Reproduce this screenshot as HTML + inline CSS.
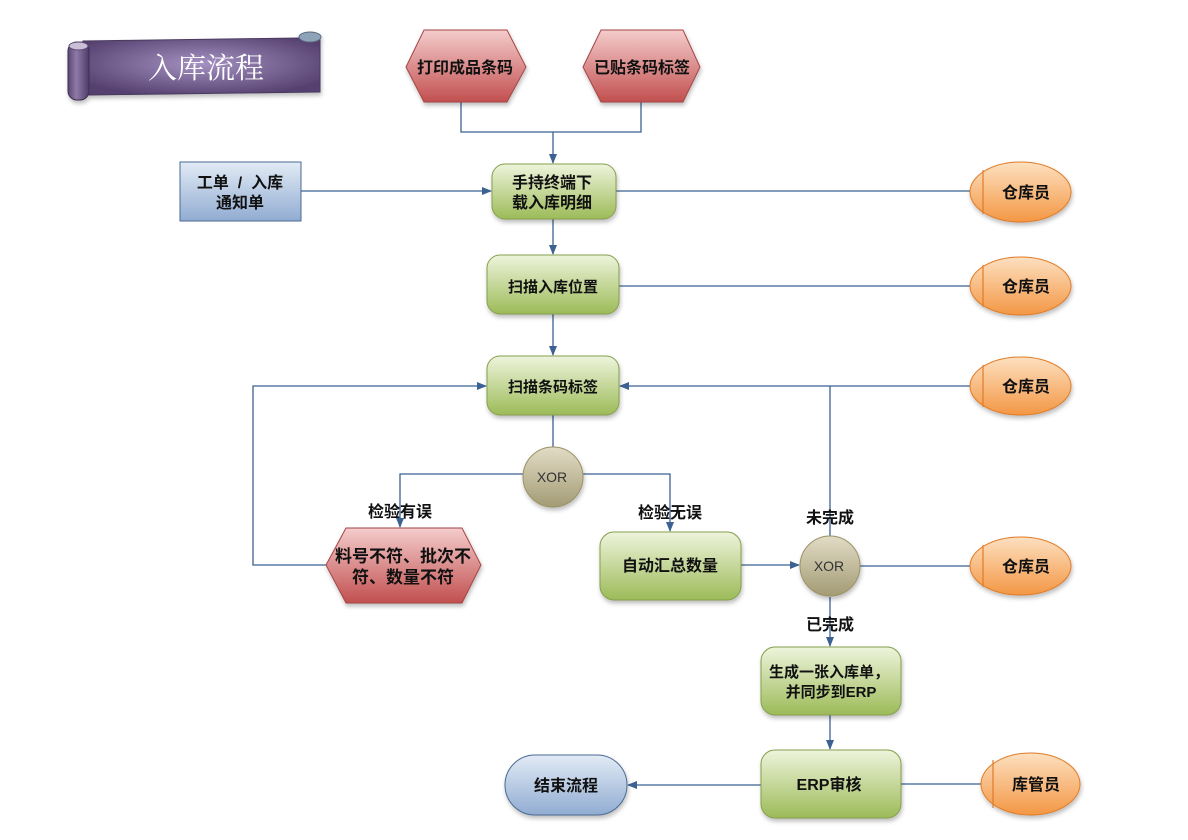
<!DOCTYPE html>
<html><head><meta charset="utf-8"><style>
html,body{margin:0;padding:0;background:#fff;}
svg{display:block;}
text{font-family:"Liberation Sans","Noto Sans CJK SC",sans-serif;font-weight:bold;fill:#111;}
</style></head><body>
<svg width="1188" height="840" viewBox="0 0 1188 840" xmlns="http://www.w3.org/2000/svg">
<defs>
<linearGradient id="gG" x1="0" y1="0" x2="0" y2="1"><stop offset="0" stop-color="#eef4dc"/><stop offset="1" stop-color="#9cbb58"/></linearGradient>
<linearGradient id="gR" x1="0" y1="0" x2="0" y2="1"><stop offset="0" stop-color="#f4cccc"/><stop offset="1" stop-color="#c24f4f"/></linearGradient>
<linearGradient id="gB" x1="0" y1="0" x2="0" y2="1"><stop offset="0" stop-color="#e2ebf5"/><stop offset="1" stop-color="#91acd2"/></linearGradient>
<linearGradient id="gO" x1="0" y1="0" x2="0" y2="1"><stop offset="0" stop-color="#fde0c0"/><stop offset="1" stop-color="#f39744"/></linearGradient>
<linearGradient id="gX" x1="0" y1="0" x2="0" y2="1"><stop offset="0" stop-color="#e2dcc6"/><stop offset="1" stop-color="#a39b74"/></linearGradient>
<radialGradient id="gP" cx="0.5" cy="0.45" r="0.6"><stop offset="0" stop-color="#a592c2"/><stop offset="1" stop-color="#55406f"/></radialGradient>
<linearGradient id="gPr" x1="0" y1="0" x2="1" y2="0"><stop offset="0" stop-color="#5a4672"/><stop offset="0.4" stop-color="#8f7aa8"/><stop offset="1" stop-color="#4e3b66"/></linearGradient>
<filter id="sh" x="-20%" y="-20%" width="140%" height="150%"><feDropShadow dx="1" dy="3" stdDeviation="2" flood-color="#000" flood-opacity="0.25"/></filter>
<marker id="ar" markerWidth="10" markerHeight="8" refX="9" refY="4" orient="auto" markerUnits="userSpaceOnUse"><path d="M0,0 L10,4 L0,8 z" fill="#3b6293"/></marker>
</defs>

<!-- title scroll -->
<g filter="url(#sh)">
<path d="M83,41 L300,38 L320,40 L320,92 L89,95 Z" fill="url(#gP)" stroke="#4a3a5e" stroke-width="1"/>
<ellipse cx="310" cy="37" rx="11" ry="5" fill="#8fa3b8" stroke="#5a6a80"/>
<rect x="68" y="42" width="21" height="58" rx="9" fill="url(#gPr)" stroke="#3e2f52"/>
<ellipse cx="78.5" cy="46" rx="9.5" ry="4" fill="#c9c0d8" stroke="#5a4672"/>
</g>
<text x="206" y="78" text-anchor="middle" style="font-family:'Liberation Serif','Noto Serif CJK SC',serif;font-weight:normal;fill:#fff;font-size:29px">入库流程</text>

<!-- connectors -->
<g stroke="#3b6293" stroke-width="1.3" fill="none">
<polyline points="461,102 461,132 641,132 641,102"/>
<line x1="553" y1="132" x2="553" y2="163" marker-end="url(#ar)"/>
<line x1="301" y1="191" x2="491" y2="191" marker-end="url(#ar)"/>
<line x1="616" y1="191" x2="970" y2="191"/>
<line x1="553" y1="219" x2="553" y2="254" marker-end="url(#ar)"/>
<line x1="619" y1="286" x2="970" y2="286"/>
<line x1="553" y1="314" x2="553" y2="355" marker-end="url(#ar)"/>
<line x1="970" y1="386" x2="620" y2="386" marker-end="url(#ar)"/>
<line x1="830" y1="386" x2="830" y2="536"/>
<polyline points="327,565 253,565 253,386 486,386" marker-end="url(#ar)"/>
<line x1="553" y1="415" x2="553" y2="447"/>
<polyline points="523,474 400,474 400,527" marker-end="url(#ar)"/>
<polyline points="583,474 670,474 670,531" marker-end="url(#ar)"/>
<line x1="741" y1="565" x2="799" y2="565" marker-end="url(#ar)"/>
<line x1="860" y1="566" x2="970" y2="566"/>
<line x1="830" y1="597" x2="830" y2="646" marker-end="url(#ar)"/>
<line x1="830" y1="715" x2="830" y2="749" marker-end="url(#ar)"/>
<line x1="901" y1="784" x2="981" y2="784"/>
<line x1="761" y1="785" x2="628" y2="785" marker-end="url(#ar)"/>
</g>

<!-- hexagons -->
<g filter="url(#sh)" stroke="#a54545" stroke-width="1" fill="url(#gR)">
<polygon points="406,67 424,30 507,30 526,67 507,102 424,102"/>
<polygon points="583,67 601,30 683,30 700,67 683,102 601,102"/>
<polygon points="326,565 346,528 462,528 481,565 462,603 346,603"/>
</g>
<text x="465" y="73" text-anchor="middle" font-size="16">打印成品条码</text>
<text x="642" y="73" text-anchor="middle" font-size="16">已贴条码标签</text>
<text x="403" y="562" text-anchor="middle" font-size="17">料号不符、批次不</text>
<text x="403" y="583" text-anchor="middle" font-size="17">符、数量不符</text>

<!-- blue input box -->
<rect x="180" y="162" width="121" height="59" fill="url(#gB)" stroke="#4a6a94" stroke-width="1"/>
<text x="240" y="188" text-anchor="middle" font-size="16" xml:space="preserve">工单  /  入库</text>
<text x="240" y="208" text-anchor="middle" font-size="16">通知单</text>

<!-- green boxes -->
<g filter="url(#sh)" fill="url(#gG)" stroke="#86a04e" stroke-width="1">
<rect x="492" y="164" width="124" height="55" rx="13"/>
<rect x="487" y="255" width="132" height="59" rx="13"/>
<rect x="487" y="356" width="132" height="59" rx="13"/>
<rect x="600" y="532" width="141" height="68" rx="14"/>
<rect x="761" y="647" width="140" height="68" rx="14"/>
<rect x="761" y="750" width="140" height="68" rx="14"/>
</g>
<text x="552" y="188" text-anchor="middle" font-size="16">手持终端下</text>
<text x="552" y="208" text-anchor="middle" font-size="16">载入库明细</text>
<text x="553" y="292" text-anchor="middle" font-size="15">扫描入库位置</text>
<text x="553" y="392" text-anchor="middle" font-size="15">扫描条码标签</text>
<text x="670" y="571" text-anchor="middle" font-size="16">自动汇总数量</text>
<text x="829" y="677" text-anchor="middle" font-size="15">生成一张入库单，</text>
<text x="831" y="697" text-anchor="middle" font-size="15">并同步到ERP</text>
<text x="829" y="790" text-anchor="middle" font-size="16">ERP审核</text>

<!-- end terminator -->
<g filter="url(#sh)">
<rect x="505" y="755" width="122" height="60" rx="30" fill="url(#gB)" stroke="#4a6a94" stroke-width="1"/>
</g>
<text x="566" y="791" text-anchor="middle" font-size="16">结束流程</text>

<!-- XOR gates -->
<g filter="url(#sh)" fill="url(#gX)" stroke="#9a9266" stroke-width="1">
<circle cx="553" cy="477" r="30"/>
<circle cx="830" cy="566" r="30"/>
</g>
<text x="552" y="482" text-anchor="middle" font-size="14" style="font-weight:normal;fill:#333">XOR</text>
<text x="829" y="571" text-anchor="middle" font-size="14" style="font-weight:normal;fill:#333">XOR</text>

<!-- edge labels -->
<text x="400" y="517" text-anchor="middle" font-size="16">检验有误</text>
<text x="670" y="518" text-anchor="middle" font-size="16">检验无误</text>
<text x="830" y="523" text-anchor="middle" font-size="16">未完成</text>
<text x="830" y="630" text-anchor="middle" font-size="16">已完成</text>

<!-- actors -->
<g filter="url(#sh)" fill="url(#gO)" stroke="#e07b28" stroke-width="1">
<ellipse cx="1020.5" cy="192" rx="50.5" ry="30"/>
<ellipse cx="1020.5" cy="286" rx="50.5" ry="29"/>
<ellipse cx="1020.5" cy="386" rx="50.5" ry="29"/>
<ellipse cx="1020.5" cy="566" rx="50.5" ry="29"/>
<ellipse cx="1030.5" cy="784" rx="49.5" ry="31"/>
</g>
<g stroke="#e07b28" stroke-width="1.2">
<line x1="983" y1="170" x2="983" y2="214"/>
<line x1="983" y1="265" x2="983" y2="307"/>
<line x1="983" y1="365" x2="983" y2="407"/>
<line x1="983" y1="545" x2="983" y2="587"/>
<line x1="993" y1="760" x2="993" y2="808"/>
</g>
<text x="1026" y="198" text-anchor="middle" font-size="16">仓库员</text>
<text x="1026" y="292" text-anchor="middle" font-size="16">仓库员</text>
<text x="1026" y="392" text-anchor="middle" font-size="16">仓库员</text>
<text x="1026" y="572" text-anchor="middle" font-size="16">仓库员</text>
<text x="1036" y="790" text-anchor="middle" font-size="16">库管员</text>
</svg>
</body></html>
